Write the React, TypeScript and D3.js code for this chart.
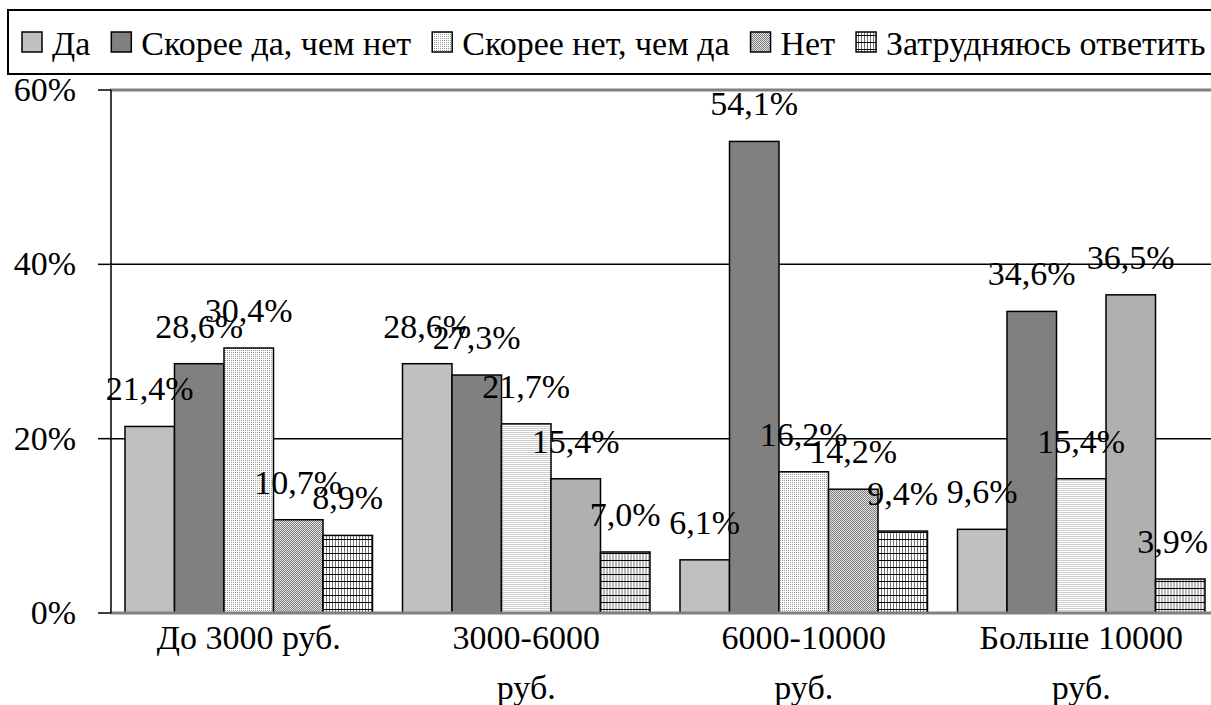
import * as d3 from 'd3';
import { FunctionComponent, useLayoutEffect, useRef, useState } from "react";

const categories = [
    ["До 3000 руб."],
    ["3000-6000", "руб."],
    ["6000-10000", "руб."],
    ["Больше 10000", "руб."],
];
const seriesNames = ["Да", "Скорее да, чем нет", "Скорее нет, чем да", "Нет", "Затрудняюсь ответить"];
const valuesDa = [21.4, 28.6, 6.1, 9.6];
const valuesRatherYes = [28.6, 27.3, 54.1, 34.6];
const valuesRatherNo = [30.4, 21.7, 16.2, 15.4];
const valuesNo = [10.7, 15.4, 14.2, 36.5];
const valuesHard = [8.9, 7.0, 9.4, 3.9];
const yTicks = [0, 20, 40, 60];

const seriesValues = [valuesDa, valuesRatherYes, valuesRatherNo, valuesNo, valuesHard];
const fills = ["#c0c0c0", "#808080", "url(#pLight)", "url(#pNet)", "url(#pGrid)"];

const FONT = '"Liberation Serif", monospace';
const FONT_SIZE = 34;

const Chart: FunctionComponent = () => {
    const width = 1211;
    const height = 705;
    const left = 110;
    const right = 1220;
    const top = 90;
    const bottom = 613;

    const catKeys = categories.map(c => c.join(' '));
    const x0 = d3.scaleBand<string>()
        .domain(catKeys)
        .range([left, right])
        .paddingInner(30 / 277.5)
        .paddingOuter(15 / 277.5);
    const x1 = d3.scaleBand<string>()
        .domain(seriesNames)
        .range([0, x0.bandwidth()]);
    const y = d3.scaleLinear().domain([0, 60]).range([bottom, top]);

    // legend layout: measured after first render
    const textRefs = useRef<(SVGTextElement | null)[]>([]);
    const [legendX, setLegendX] = useState<number[]>([22, 113, 438, 766, 859]);
    useLayoutEffect(() => {
        let lx = 22;
        const xs = seriesNames.map((_, i) => {
            const x = lx;
            const w = textRefs.current[i]?.getComputedTextLength() ?? 0;
            lx += 30 + w + 21;
            return x;
        });
        setLegendX(xs);
    }, []);

    const ts = { fontFamily: FONT };

    return <svg width={width} height={height} style={{ position: 'absolute', left: 0, top: 0 }}>
        <defs>
            <pattern id="pLight" width={2} height={2} patternUnits="userSpaceOnUse">
                <rect width={2} height={2} fill="#ffffff" />
                <rect width={1} height={1} fill="#9a9a9a" shapeRendering="crispEdges" />
            </pattern>
            <pattern id="pNet" width={2} height={2} patternUnits="userSpaceOnUse">
                <rect width={2} height={2} fill="#e0e0e0" />
                <rect width={1} height={1} fill="#808080" shapeRendering="crispEdges" />
                <rect x={1} y={1} width={1} height={1} fill="#808080" shapeRendering="crispEdges" />
            </pattern>
            <pattern id="pGrid" width={3} height={7} patternUnits="userSpaceOnUse">
                <rect width={3} height={7} fill="#ffffff" />
                <rect width={1} height={7} fill="#707070" shapeRendering="crispEdges" />
                <rect width={3} height={1} fill="#000000" shapeRendering="crispEdges" />
            </pattern>
        </defs>
        <rect width={width} height={height} fill="#ffffff" />

        {/* legend */}
        <rect x={8} y={10} width={1220} height={64} fill="none" stroke="#000" strokeWidth={2} />
        {seriesNames.map((name, i) => <g key={name}>
            <rect x={legendX[i]} y={32} width={20} height={20} fill={fills[i]} stroke="#000" strokeWidth={1.5} />
            <text ref={el => { textRefs.current[i] = el; }} x={legendX[i] + 30} y={55}
                fontSize={FONT_SIZE} style={ts}>{name}</text>
        </g>)}

        {/* grid */}
        {yTicks.filter(t => t > 0 && t < 60).map(t =>
            <line key={t} x1={left} x2={width} y1={y(t)} y2={y(t)} stroke="#000" strokeWidth={1.5} />)}
        <line x1={left} x2={width} y1={y(60)} y2={y(60)} stroke="#808080" strokeWidth={3} />

        {/* bars */}
        {catKeys.map((cat, ci) => <g key={cat} transform={`translate(${x0(cat)},0)`}>
            {seriesNames.map((s, si) => {
                const v = seriesValues[si][ci];
                return <rect key={s} x={x1(s)} y={y(v)} width={x1.bandwidth()} height={y(0) - y(v)}
                    fill={fills[si]} stroke="#000" strokeWidth={1.5} />;
            })}
        </g>)}

        {/* axes */}
        <line x1={left} x2={width} y1={y(0)} y2={y(0)} stroke="#808080" strokeWidth={3} />
        <line x1={left + 1} x2={left + 1} y1={y(60)} y2={y(0)} stroke="#000" strokeWidth={1.5} />
        {yTicks.map(t => <g key={t}>
            <line x1={98} x2={left + 1} y1={y(t)} y2={y(t)} stroke="#000" strokeWidth={1.5} />
            <text x={76} y={y(t) + 11} textAnchor="end" fontSize={FONT_SIZE} style={ts}>{t}%</text>
        </g>)}

        {/* data labels */}
        {catKeys.map((cat, ci) => seriesNames.map((s, si) => {
            const v = seriesValues[si][ci];
            const cx = x0(cat)! + x1(s)! + x1.bandwidth() / 2;
            const nearEdge = cx + 38 > width;
            return <text key={cat + s} x={nearEdge ? width - 3 : cx} y={y(v) - 26}
                textAnchor={nearEdge ? "end" : "middle"} fontSize={FONT_SIZE} style={ts}>
                {v.toFixed(1).replace('.', ',')}%</text>;
        }))}

        {/* category labels */}
        {categories.map((lines, ci) => lines.map((ln, li) =>
            <text key={ci + '-' + li} x={x0(catKeys[ci])! + x0.bandwidth() / 2} y={649 + li * 50}
                textAnchor="middle" fontSize={FONT_SIZE} style={ts}>{ln}</text>))}
    </svg>;
}

export default function App() {
    return <Chart />;
}
